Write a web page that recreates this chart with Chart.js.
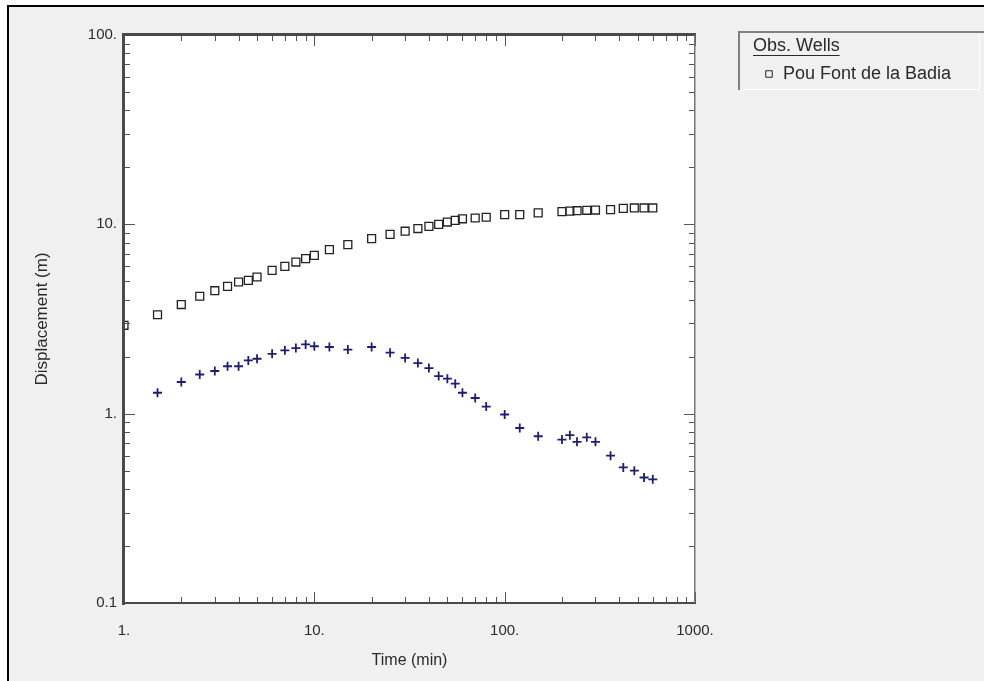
<!DOCTYPE html>
<html><head><meta charset="utf-8">
<script src="https://cdn.jsdelivr.net/npm/chart.js@4/dist/chart.umd.min.js"></script>
<style>html,body{margin:0;padding:0;background:#fff;overflow:hidden}#wrap{position:relative;width:984px;height:681px}</style>
</head><body><div id="wrap"><canvas id="c" width="984" height="681"></canvas></div>
<script>
// ---- data ----
const obsTime = [1, 1.5, 2, 2.5, 3, 3.5, 4, 4.5, 5, 6, 7, 8, 9, 10, 12, 15, 20, 25, 30, 35, 40, 45, 50, 55, 60, 70, 80, 100, 120, 150, 200, 220, 240, 270, 300, 360, 420, 480, 540, 600];
const obsDisp = [2.93, 3.33, 3.77, 4.17, 4.46, 4.70, 4.96, 5.06, 5.27, 5.71, 6.0, 6.32, 6.59, 6.86, 7.35, 7.81, 8.40, 8.85, 9.2, 9.5, 9.76, 10.0, 10.28, 10.5, 10.7, 10.8, 10.9, 11.25, 11.25, 11.5, 11.67, 11.75, 11.8, 11.86, 11.9, 11.96, 12.15, 12.2, 12.2, 12.2];
const derivTime = [1.5, 2, 2.5, 3, 3.5, 4, 4.5, 5, 6, 7, 8, 9, 10, 12, 15, 20, 25, 30, 35, 40, 45, 50, 55, 60, 70, 80, 100, 120, 150, 200, 220, 240, 270, 300, 360, 420, 480, 540, 600];
const derivDisp = [1.29, 1.47, 1.61, 1.68, 1.78, 1.78, 1.91, 1.95, 2.07, 2.16, 2.22, 2.32, 2.27, 2.25, 2.18, 2.25, 2.10, 1.97, 1.85, 1.74, 1.58, 1.53, 1.44, 1.29, 1.21, 1.09, 0.99, 0.84, 0.76, 0.73, 0.77, 0.71, 0.75, 0.71, 0.60, 0.52, 0.50, 0.46, 0.45];
const xTickValues = [1, 10, 100, 1000];
const xTickLabels = ['1.', '10.', '100.', '1000.'];
const yTickValues = [0.1, 1, 10, 100];
const yTickLabels = ['0.1', '1.', '10.', '100.'];
const seriesLabels = ['Pou Font de la Badia', 'Derivative'];
const legendTitle = 'Obs. Wells';
const xTitle = 'Time (min)';
const yTitle = 'Displacement (m)';

const FONT = '"Liberation Sans", Arial, sans-serif';
const TEXT = '#2a2a2a';

function allTicks(vals) {
  const out = [];
  for (let i = 0; i < vals.length - 1; i++) {
    for (let k = 1; k < 10; k++) out.push({ value: +(vals[i] * k).toPrecision(6) });
  }
  out.push({ value: vals[vals.length - 1] });
  return out;
}
function labelFor(v, vals, labs) {
  for (let i = 0; i < vals.length; i++) if (Math.abs(v - vals[i]) / vals[i] < 1e-6) return labs[i];
  return '';
}
function isMajor(v, vals) { return labelFor(v, vals, vals.map(() => 'x')) !== ''; }

const decorPlugin = {
  id: 'decor',
  beforeDraw(chart) {
    const ctx = chart.ctx, a = chart.chartArea, W = chart.width, H = chart.height;
    ctx.save();
    ctx.fillStyle = '#ffffff'; ctx.fillRect(0, 0, W, H);
    ctx.fillStyle = '#f0f0f0'; ctx.fillRect(9, 7, W - 9, H - 7);
    ctx.fillStyle = '#000000'; ctx.fillRect(7, 5, W - 7, 2); ctx.fillRect(7, 5, 2, H - 5);
    ctx.fillStyle = '#ffffff'; ctx.fillRect(a.left, a.top, a.right - a.left, a.bottom - a.top);
    ctx.restore();
  },
  afterDatasetsDraw(chart) {
    const ctx = chart.ctx, a = chart.chartArea;
    const xs = chart.scales.x, ys = chart.scales.y;
    ctx.save();
    ctx.strokeStyle = '#555'; ctx.lineWidth = 1;
    ctx.beginPath();
    xs.ticks.forEach(t => {
      const p = Math.round(xs.getPixelForValue(t.value)) + 0.5;
      const len = isMajor(t.value, xTickValues) ? 11 : 6;
      ctx.moveTo(p, a.bottom); ctx.lineTo(p, a.bottom - len);
      ctx.moveTo(p, a.top); ctx.lineTo(p, a.top + len);
    });
    ys.ticks.forEach(t => {
      const p = Math.round(ys.getPixelForValue(t.value)) + 0.5;
      const len = isMajor(t.value, yTickValues) ? 11 : 6;
      ctx.moveTo(a.left, p); ctx.lineTo(a.left + len, p);
      ctx.moveTo(a.right, p); ctx.lineTo(a.right - len, p);
    });
    ctx.stroke();
    // frame
    ctx.fillStyle = '#4a4a4a';
    ctx.fillRect(a.left - 2, a.top - 2, a.right - a.left + 3, 3);
    ctx.fillRect(a.left - 2, a.top - 2, 3, a.bottom - a.top + 4);
    ctx.fillRect(a.left - 2, a.bottom - 1, a.right - a.left + 3, 2);
    ctx.fillStyle = '#777';
    ctx.fillRect(a.right - 1, a.top, 1.5, a.bottom - a.top);
    ctx.restore();
  },
  afterDraw(chart) {
    const ctx = chart.ctx;
    const ds = chart.data.datasets[0];
    ctx.save();
    // sunken legend box
    ctx.fillStyle = '#808080';
    ctx.fillRect(738, 31, 246, 2);
    ctx.fillRect(738, 31, 2, 59);
    ctx.fillStyle = '#ffffff';
    ctx.fillRect(979, 33, 1, 57);
    ctx.fillRect(740, 89, 239, 1);
    ctx.font = '18px ' + FONT;
    ctx.fillStyle = TEXT;
    ctx.textBaseline = 'middle';
    ctx.textAlign = 'left';
    ctx.fillText(legendTitle, 753, 46);
    const w = ctx.measureText(legendTitle).width;
    ctx.fillRect(753, 55, w, 1);
    ctx.fillText(ds.label, 783, 74);
    ctx.fillStyle = 'rgba(0,0,0,0)';
    ctx.strokeStyle = ds.pointBorderColor; ctx.lineWidth = 1;
    Chart.helpers.drawPoint(ctx, { pointStyle: 'rect', radius: 4.6, borderWidth: 1, rotation: 0 }, 769, 74);
    ctx.restore();
  }
};

new Chart(document.getElementById('c'), {
  type: 'scatter',
  data: {
    datasets: [
      {
        label: seriesLabels[0],
        data: obsTime.map((t, i) => ({ x: t, y: obsDisp[i] })),
        pointStyle: 'rect', pointRadius: 5.6, pointBorderWidth: 1.3,
        pointBorderColor: '#222222', pointBackgroundColor: 'rgba(0,0,0,0)', showLine: false
      },
      {
        label: seriesLabels[1],
        data: derivTime.map((t, i) => ({ x: t, y: derivDisp[i] })),
        pointStyle: 'cross', pointRadius: 4.5, pointBorderWidth: 1.8,
        pointBorderColor: '#1e1e72', pointBackgroundColor: '#1e1e72', showLine: false
      }
    ]
  },
  options: {
    responsive: false,
    animation: false,
    events: [],
    layout: { padding: { top: 35, right: 289, left: 0, bottom: 0 } },
    plugins: { legend: { display: false }, tooltip: { enabled: false } },
    scales: {
      x: {
        type: 'logarithmic', min: 1, max: 1000, position: 'bottom',
        grid: { display: false, drawTicks: false }, border: { display: false },
        afterBuildTicks: s => { s.ticks = allTicks(xTickValues); },
        afterFit: s => { s.height = 78; },
        ticks: { autoSkip: false, maxRotation: 0, padding: 19, color: TEXT, font: { family: FONT, size: 15 },
          callback: v => labelFor(v, xTickValues, xTickLabels) },
        title: { display: true, text: xTitle, color: TEXT, font: { family: FONT, size: 16 }, padding: { top: 0, bottom: 11 } }
      },
      y: {
        type: 'logarithmic', min: 0.1, max: 100, position: 'left',
        grid: { display: false, drawTicks: false }, border: { display: false },
        afterBuildTicks: s => { s.ticks = allTicks(yTickValues); },
        afterFit: s => { s.width = 124; },
        ticks: { autoSkip: false, padding: 7, color: TEXT, font: { family: FONT, size: 15 },
          callback: v => labelFor(v, yTickValues, yTickLabels) },
        title: { display: true, text: yTitle, color: TEXT, font: { family: FONT, size: 17 }, padding: { top: 32, bottom: 0 } }
      }
    }
  },
  plugins: [decorPlugin]
});
</script></body></html>
